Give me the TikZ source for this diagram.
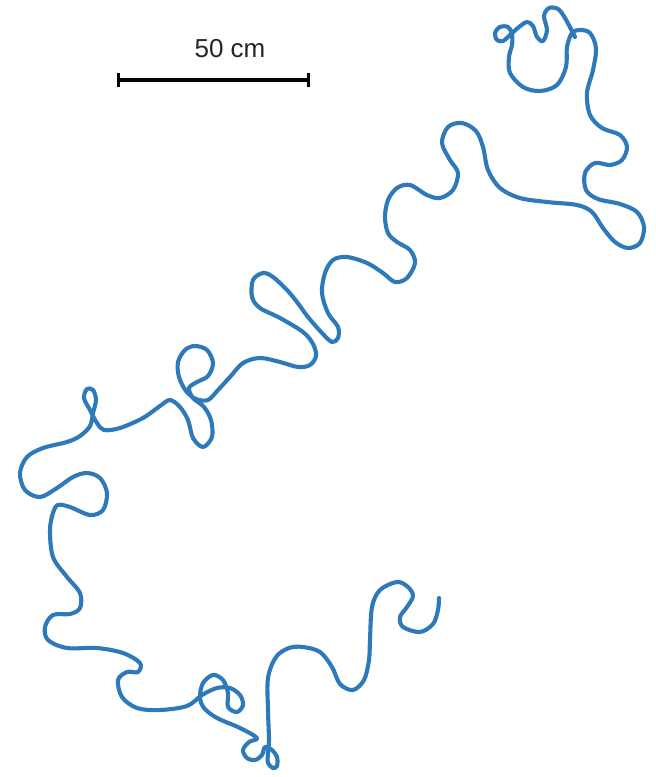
\documentclass[tikz,border=0pt]{standalone}
\usepackage{fontspec}
\setmainfont{Liberation Sans}
\definecolor{chain}{RGB}{46,121,186}
\tikzset{
  chainline/.style={draw=chain, line width=4.1pt, line cap=round, line join=round},
  barline/.style={draw=black, line width=3.8pt},
  tickline/.style={draw=black, line width=3pt},
  barlabel/.style={font=\fontsize{26}{30}\selectfont, text=black!85, inner sep=0pt}
}
\begin{document}
\begin{tikzpicture}[x=1pt,y=-1pt]
\useasboundingbox (0,0) rectangle (656,777);
% scale bar
\coordinate (sbL) at (118,80);
\coordinate (sbR) at (308,80);
\draw[barline] (sbL) -- (sbR);
\draw[tickline] ([yshift=-7pt]sbL) -- ([yshift=7pt]sbL);
\draw[tickline] ([yshift=-7pt]sbR) -- ([yshift=7pt]sbR);
\node[barlabel] (lbl) at (230,49) {50 cm};
% polymer chain
\draw[chainline] plot[smooth, tension=0.55] coordinates {
(575,37) (565,18) (558,9) (549,8) (544,16) (547,30) (543,41) (537,37) (533,26) (527,22)
(519,27) (510,35) (503,41) (497,40) (495,33) (500,27) (508,27) (512,34) (512,45) (509,57)
(510,73) (523,87) (540,91) (557,85) (566,67) (567,47) (572,33) (580,30) (590,33)
(596,48) (593,70) (587,93) (590,115) (602,128) (620,135) (627,147) (622,160) (610,165)
(595,163) (585,173) (586,190) (598,199) (620,204) (637,212) (644,227) (640,243) (628,248)
(615,242) (603,228) (592,212) (577,205) (547,202) (520,198) (500,188) (488,170) (483,147)
(476,131) (462,123) (448,127) (442,143) (450,160) (458,173) (453,190) (440,198) (427,195)
(410,185) (397,188) (388,200) (385,217) (388,233) (397,242) (410,250) (415,263) (407,278)
(395,282) (383,273) (367,263) (347,257) (333,260) (325,273) (322,293) (328,313) (338,327)
(338,338) (332,342) (322,333) (308,317) (297,302) (287,290) (273,277) (263,273) (253,280)
(252,297) (260,308) (280,318) (303,332) (313,344) (316,356) (310,365) (298,367) (280,362)
(260,358) (243,363) (230,377) (218,390) (208,400) (196,399) (186,391) (179,377) (178,362)
(185,350) (195,346) (207,350) (213,363) (208,376) (197,382) (189,388) (193,398) (204,407)
(211,420) (212,437) (203,447) (193,438) (188,420) (180,407) (170,400) (160,406) (143,418)
(120,428) (104,430) (97,423) (90,410) (84,398) (87,389) (93,390) (96,400) (93,413) (90,426)
(80,436) (67,442) (43,448) (27,457) (20,473) (25,490) (40,497) (57,488) (73,477) (87,473)
(100,478) (107,493) (103,510) (90,515) (70,507) (58,505) (53,513) (50,530) (53,557) (67,577)
(80,593) (80,608) (70,614) (53,615) (45,627) (48,640) (67,648) (97,648) (123,653) (140,663)
(138,672) (127,672) (118,680) (122,697) (137,708) (160,710) (187,706) (202,695) (217,688)
(230,688) (240,695) (243,705) (237,712) (228,707) (228,693) (223,680) (213,675) (203,683)
(200,697) (204,708) (217,718) (240,728) (257,738) (249,742) (243,750) (247,758) (255,760)
(262,755) (265,747) (272,750) (277,757) (277,766) (273,768) (268,763) (268,753) (269,740)
(268,710) (268,678) (276,657) (289,648) (303,647) (320,652) (332,667) (340,684) (353,690)
(364,680) (369,660) (370,640) (372,607) (380,590) (397,582) (408,587) (413,596) (407,607)
(400,617) (403,627) (420,632) (433,624) (438,610) (439,598)
};
\end{tikzpicture}
\end{document}
